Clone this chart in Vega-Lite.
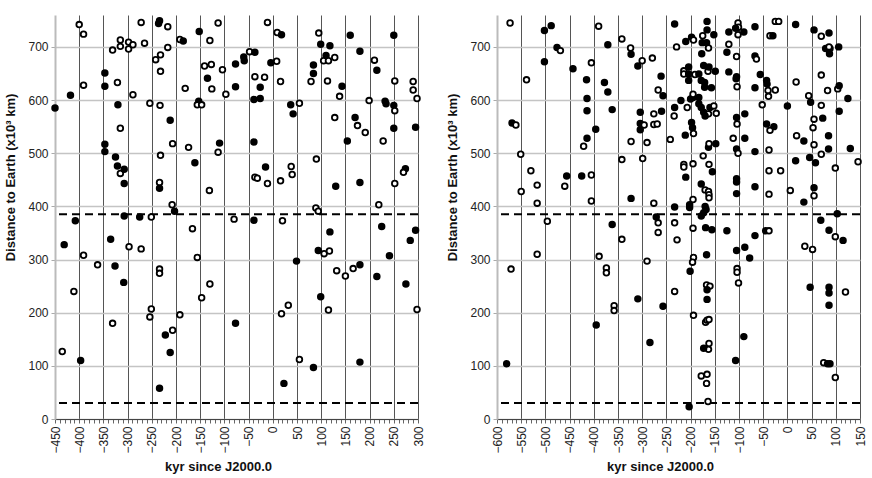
{
  "$schema": "https://vega.github.io/schema/vega-lite/v6.json",
  "background": "white",
  "padding": {"left": 4, "top": 14, "right": 5, "bottom": 5},
  "spacing": 22,
  "config": {
    "view": {"stroke": null},
    "font": "Liberation Sans",
    "axis": {
      "labelFont": "Liberation Sans",
      "titleFont": "Liberation Sans",
      "labelFontSize": 12,
      "labelColor": "#222",
      "titleFontSize": 13,
      "titleFontWeight": "bold",
      "titleColor": "#111",
      "tickSize": 4
    },
    "axisX": {
      "labelAngle": 270,
      "labelOverlap": false,
      "labelFlush": false,
      "labelPadding": 3,
      "domainColor": "#444",
      "domainWidth": 1,
      "tickColor": "#666",
      "tickWidth": 1,
      "gridColor": "#555",
      "gridWidth": 1,
      "titlePadding": 7,
      "titleX": 163
    },
    "axisY": {
      "domainColor": "#bbb",
      "domainWidth": 2,
      "tickColor": "#aaa",
      "gridColor": "#c4c4c4",
      "gridWidth": 1.5,
      "labelPadding": 3,
      "titlePadding": 10,
      "titleY": 162
    }
  },
  "datasets": {
    "lines": [{"dist": 385}, {"dist": 30}],
    "left": [
      {"kyr": -450, "dist": 585, "type": "filled"},
      {"kyr": -400, "dist": 742, "type": "open"},
      {"kyr": -391, "dist": 724, "type": "open"},
      {"kyr": -391, "dist": 628, "type": "open"},
      {"kyr": -418, "dist": 609, "type": "filled"},
      {"kyr": -408, "dist": 373, "type": "filled"},
      {"kyr": -431, "dist": 328, "type": "filled"},
      {"kyr": -347, "dist": 651, "type": "filled"},
      {"kyr": -347, "dist": 626, "type": "filled"},
      {"kyr": -331, "dist": 694, "type": "open"},
      {"kyr": -315, "dist": 713, "type": "open"},
      {"kyr": -315, "dist": 701, "type": "open"},
      {"kyr": -298, "dist": 709, "type": "open"},
      {"kyr": -298, "dist": 696, "type": "open"},
      {"kyr": -289, "dist": 704, "type": "open"},
      {"kyr": -272, "dist": 746, "type": "open"},
      {"kyr": -265, "dist": 707, "type": "open"},
      {"kyr": -321, "dist": 633, "type": "open"},
      {"kyr": -289, "dist": 610, "type": "open"},
      {"kyr": -320, "dist": 591, "type": "filled"},
      {"kyr": -315, "dist": 547, "type": "open"},
      {"kyr": -347, "dist": 517, "type": "filled"},
      {"kyr": -347, "dist": 503, "type": "filled"},
      {"kyr": -325, "dist": 493, "type": "filled"},
      {"kyr": -321, "dist": 476, "type": "filled"},
      {"kyr": -315, "dist": 462, "type": "open"},
      {"kyr": -307, "dist": 470, "type": "filled"},
      {"kyr": -307, "dist": 443, "type": "filled"},
      {"kyr": -307, "dist": 382, "type": "filled"},
      {"kyr": -275, "dist": 380, "type": "filled"},
      {"kyr": -335, "dist": 338, "type": "filled"},
      {"kyr": -297, "dist": 324, "type": "open"},
      {"kyr": -272, "dist": 320, "type": "open"},
      {"kyr": -251, "dist": 380, "type": "open"},
      {"kyr": -254, "dist": 594, "type": "open"},
      {"kyr": -236, "dist": 744, "type": "filled"},
      {"kyr": -234, "dist": 749, "type": "filled"},
      {"kyr": -217, "dist": 738, "type": "open"},
      {"kyr": -232, "dist": 685, "type": "open"},
      {"kyr": -217, "dist": 699, "type": "open"},
      {"kyr": -242, "dist": 676, "type": "open"},
      {"kyr": -232, "dist": 654, "type": "open"},
      {"kyr": -233, "dist": 590, "type": "open"},
      {"kyr": -232, "dist": 496, "type": "open"},
      {"kyr": -234, "dist": 445, "type": "open"},
      {"kyr": -234, "dist": 434, "type": "filled"},
      {"kyr": -212, "dist": 562, "type": "filled"},
      {"kyr": -207, "dist": 518, "type": "open"},
      {"kyr": -208, "dist": 403, "type": "open"},
      {"kyr": -203, "dist": 391, "type": "filled"},
      {"kyr": -192, "dist": 714, "type": "open"},
      {"kyr": -185, "dist": 711, "type": "filled"},
      {"kyr": -181, "dist": 622, "type": "open"},
      {"kyr": -174, "dist": 511, "type": "open"},
      {"kyr": -161, "dist": 482, "type": "filled"},
      {"kyr": -166, "dist": 358, "type": "open"},
      {"kyr": -152, "dist": 729, "type": "filled"},
      {"kyr": -153, "dist": 598, "type": "filled"},
      {"kyr": -156, "dist": 591, "type": "open"},
      {"kyr": -147, "dist": 591, "type": "open"},
      {"kyr": -135, "dist": 641, "type": "filled"},
      {"kyr": -141, "dist": 664, "type": "open"},
      {"kyr": -127, "dist": 667, "type": "open"},
      {"kyr": -130, "dist": 712, "type": "open"},
      {"kyr": -113, "dist": 745, "type": "open"},
      {"kyr": -126, "dist": 621, "type": "open"},
      {"kyr": -104, "dist": 657, "type": "open"},
      {"kyr": -97, "dist": 611, "type": "open"},
      {"kyr": -110, "dist": 519, "type": "filled"},
      {"kyr": -113, "dist": 502, "type": "open"},
      {"kyr": -131, "dist": 430, "type": "open"},
      {"kyr": -80, "dist": 376, "type": "open"},
      {"kyr": -77, "dist": 668, "type": "filled"},
      {"kyr": -77, "dist": 625, "type": "filled"},
      {"kyr": -60, "dist": 681, "type": "filled"},
      {"kyr": -59, "dist": 674, "type": "filled"},
      {"kyr": -48, "dist": 691, "type": "open"},
      {"kyr": -37, "dist": 690, "type": "filled"},
      {"kyr": -37, "dist": 644, "type": "open"},
      {"kyr": -17, "dist": 643, "type": "open"},
      {"kyr": -39, "dist": 601, "type": "filled"},
      {"kyr": -26, "dist": 603, "type": "filled"},
      {"kyr": -26, "dist": 624, "type": "filled"},
      {"kyr": -39, "dist": 521, "type": "filled"},
      {"kyr": -37, "dist": 455, "type": "open"},
      {"kyr": -32, "dist": 453, "type": "open"},
      {"kyr": -15, "dist": 474, "type": "filled"},
      {"kyr": -11, "dist": 443, "type": "open"},
      {"kyr": -39, "dist": 374, "type": "filled"},
      {"kyr": -11, "dist": 746, "type": "open"},
      {"kyr": -4, "dist": 670, "type": "filled"},
      {"kyr": 8, "dist": 673, "type": "open"},
      {"kyr": 9, "dist": 727, "type": "open"},
      {"kyr": 18, "dist": 723, "type": "filled"},
      {"kyr": 16, "dist": 635, "type": "open"},
      {"kyr": 16, "dist": 448, "type": "open"},
      {"kyr": 20, "dist": 373, "type": "open"},
      {"kyr": 38, "dist": 475, "type": "open"},
      {"kyr": 40, "dist": 460, "type": "open"},
      {"kyr": 37, "dist": 591, "type": "filled"},
      {"kyr": 42, "dist": 574, "type": "filled"},
      {"kyr": 55, "dist": 594, "type": "open"},
      {"kyr": 95, "dist": 726, "type": "open"},
      {"kyr": 99, "dist": 705, "type": "filled"},
      {"kyr": 118, "dist": 702, "type": "filled"},
      {"kyr": 110, "dist": 684, "type": "filled"},
      {"kyr": 105, "dist": 674, "type": "open"},
      {"kyr": 115, "dist": 674, "type": "open"},
      {"kyr": 128, "dist": 680, "type": "open"},
      {"kyr": 84, "dist": 666, "type": "filled"},
      {"kyr": 84, "dist": 650, "type": "filled"},
      {"kyr": 79, "dist": 635, "type": "open"},
      {"kyr": 113, "dist": 636, "type": "open"},
      {"kyr": 143, "dist": 626, "type": "filled"},
      {"kyr": 138, "dist": 607, "type": "open"},
      {"kyr": 128, "dist": 567, "type": "open"},
      {"kyr": 170, "dist": 567, "type": "filled"},
      {"kyr": 175, "dist": 552, "type": "open"},
      {"kyr": 191, "dist": 539, "type": "open"},
      {"kyr": 154, "dist": 523, "type": "filled"},
      {"kyr": 160, "dist": 722, "type": "filled"},
      {"kyr": 180, "dist": 692, "type": "filled"},
      {"kyr": 210, "dist": 675, "type": "open"},
      {"kyr": 215, "dist": 656, "type": "filled"},
      {"kyr": 199, "dist": 599, "type": "open"},
      {"kyr": 232, "dist": 598, "type": "filled"},
      {"kyr": 234, "dist": 593, "type": "filled"},
      {"kyr": 250, "dist": 590, "type": "filled"},
      {"kyr": 252, "dist": 580, "type": "open"},
      {"kyr": 252, "dist": 636, "type": "open"},
      {"kyr": 250, "dist": 722, "type": "filled"},
      {"kyr": 228, "dist": 523, "type": "open"},
      {"kyr": 250, "dist": 547, "type": "filled"},
      {"kyr": 295, "dist": 549, "type": "filled"},
      {"kyr": 290, "dist": 635, "type": "open"},
      {"kyr": 290, "dist": 619, "type": "open"},
      {"kyr": 298, "dist": 603, "type": "open"},
      {"kyr": 90, "dist": 489, "type": "open"},
      {"kyr": 130, "dist": 438, "type": "filled"},
      {"kyr": 180, "dist": 445, "type": "filled"},
      {"kyr": 252, "dist": 443, "type": "open"},
      {"kyr": 274, "dist": 471, "type": "filled"},
      {"kyr": 270, "dist": 464, "type": "open"},
      {"kyr": 219, "dist": 403, "type": "open"},
      {"kyr": 89, "dist": 397, "type": "open"},
      {"kyr": 94, "dist": 391, "type": "open"},
      {"kyr": 118, "dist": 352, "type": "filled"},
      {"kyr": 225, "dist": 362, "type": "filled"},
      {"kyr": 295, "dist": 355, "type": "filled"},
      {"kyr": 284, "dist": 336, "type": "filled"},
      {"kyr": 94, "dist": 317, "type": "filled"},
      {"kyr": 106, "dist": 311, "type": "open"},
      {"kyr": 117, "dist": 316, "type": "open"},
      {"kyr": 49, "dist": 297, "type": "filled"},
      {"kyr": 132, "dist": 279, "type": "open"},
      {"kyr": 150, "dist": 269, "type": "open"},
      {"kyr": 166, "dist": 283, "type": "open"},
      {"kyr": 180, "dist": 290, "type": "filled"},
      {"kyr": 215, "dist": 268, "type": "filled"},
      {"kyr": 241, "dist": 307, "type": "filled"},
      {"kyr": 275, "dist": 254, "type": "filled"},
      {"kyr": 99, "dist": 230, "type": "filled"},
      {"kyr": 32, "dist": 214, "type": "open"},
      {"kyr": 18, "dist": 198, "type": "open"},
      {"kyr": 115, "dist": 205, "type": "open"},
      {"kyr": 298, "dist": 206, "type": "open"},
      {"kyr": 55, "dist": 112, "type": "open"},
      {"kyr": 84, "dist": 97, "type": "filled"},
      {"kyr": 180, "dist": 107, "type": "filled"},
      {"kyr": 23, "dist": 67, "type": "filled"},
      {"kyr": -391, "dist": 308, "type": "open"},
      {"kyr": -362, "dist": 290, "type": "open"},
      {"kyr": -326, "dist": 288, "type": "filled"},
      {"kyr": -308, "dist": 257, "type": "filled"},
      {"kyr": -411, "dist": 240, "type": "open"},
      {"kyr": -331, "dist": 180, "type": "open"},
      {"kyr": -435, "dist": 127, "type": "open"},
      {"kyr": -397, "dist": 110, "type": "filled"},
      {"kyr": -234, "dist": 282, "type": "open"},
      {"kyr": -234, "dist": 274, "type": "open"},
      {"kyr": -251, "dist": 207, "type": "open"},
      {"kyr": -254, "dist": 192, "type": "open"},
      {"kyr": -222, "dist": 158, "type": "filled"},
      {"kyr": -207, "dist": 167, "type": "open"},
      {"kyr": -212, "dist": 125, "type": "filled"},
      {"kyr": -192, "dist": 196, "type": "open"},
      {"kyr": -234, "dist": 58, "type": "filled"},
      {"kyr": -156, "dist": 304, "type": "open"},
      {"kyr": -147, "dist": 228, "type": "open"},
      {"kyr": -130, "dist": 254, "type": "open"},
      {"kyr": -77, "dist": 180, "type": "filled"}
    ],
    "right": [
      {"kyr": -573, "dist": 745, "type": "open"},
      {"kyr": -502, "dist": 731, "type": "filled"},
      {"kyr": -488, "dist": 740, "type": "filled"},
      {"kyr": -476, "dist": 699, "type": "filled"},
      {"kyr": -469, "dist": 693, "type": "open"},
      {"kyr": -502, "dist": 672, "type": "filled"},
      {"kyr": -539, "dist": 638, "type": "open"},
      {"kyr": -443, "dist": 659, "type": "filled"},
      {"kyr": -405, "dist": 670, "type": "open"},
      {"kyr": -390, "dist": 739, "type": "open"},
      {"kyr": -371, "dist": 704, "type": "filled"},
      {"kyr": -342, "dist": 715, "type": "open"},
      {"kyr": -324, "dist": 698, "type": "open"},
      {"kyr": -323, "dist": 686, "type": "filled"},
      {"kyr": -309, "dist": 664, "type": "filled"},
      {"kyr": -300, "dist": 674, "type": "open"},
      {"kyr": -279, "dist": 679, "type": "open"},
      {"kyr": -415, "dist": 638, "type": "filled"},
      {"kyr": -414, "dist": 603, "type": "filled"},
      {"kyr": -414, "dist": 580, "type": "filled"},
      {"kyr": -378, "dist": 633, "type": "filled"},
      {"kyr": -371, "dist": 615, "type": "filled"},
      {"kyr": -362, "dist": 582, "type": "filled"},
      {"kyr": -414, "dist": 528, "type": "filled"},
      {"kyr": -421, "dist": 513, "type": "open"},
      {"kyr": -396, "dist": 545, "type": "filled"},
      {"kyr": -569, "dist": 557, "type": "filled"},
      {"kyr": -561, "dist": 553, "type": "open"},
      {"kyr": -551, "dist": 498, "type": "open"},
      {"kyr": -550, "dist": 428, "type": "open"},
      {"kyr": -530, "dist": 467, "type": "open"},
      {"kyr": -517, "dist": 440, "type": "open"},
      {"kyr": -517, "dist": 406, "type": "open"},
      {"kyr": -496, "dist": 372, "type": "open"},
      {"kyr": -456, "dist": 457, "type": "filled"},
      {"kyr": -460, "dist": 438, "type": "open"},
      {"kyr": -425, "dist": 457, "type": "filled"},
      {"kyr": -405, "dist": 459, "type": "open"},
      {"kyr": -405, "dist": 410, "type": "open"},
      {"kyr": -304, "dist": 577, "type": "filled"},
      {"kyr": -304, "dist": 556, "type": "filled"},
      {"kyr": -304, "dist": 544, "type": "filled"},
      {"kyr": -296, "dist": 553, "type": "open"},
      {"kyr": -276, "dist": 574, "type": "open"},
      {"kyr": -276, "dist": 554, "type": "open"},
      {"kyr": -269, "dist": 555, "type": "open"},
      {"kyr": -323, "dist": 522, "type": "open"},
      {"kyr": -290, "dist": 520, "type": "open"},
      {"kyr": -342, "dist": 488, "type": "open"},
      {"kyr": -299, "dist": 490, "type": "open"},
      {"kyr": -323, "dist": 415, "type": "filled"},
      {"kyr": -276, "dist": 406, "type": "open"},
      {"kyr": -271, "dist": 380, "type": "filled"},
      {"kyr": -362, "dist": 366, "type": "filled"},
      {"kyr": -342, "dist": 338, "type": "open"},
      {"kyr": -267, "dist": 369, "type": "open"},
      {"kyr": -267, "dist": 351, "type": "open"},
      {"kyr": -571, "dist": 282, "type": "open"},
      {"kyr": -517, "dist": 310, "type": "open"},
      {"kyr": -580, "dist": 104, "type": "filled"},
      {"kyr": -395, "dist": 177, "type": "filled"},
      {"kyr": -389, "dist": 306, "type": "open"},
      {"kyr": -374, "dist": 284, "type": "open"},
      {"kyr": -374, "dist": 275, "type": "open"},
      {"kyr": -358, "dist": 213, "type": "open"},
      {"kyr": -358, "dist": 204, "type": "open"},
      {"kyr": -309, "dist": 226, "type": "filled"},
      {"kyr": -290, "dist": 297, "type": "open"},
      {"kyr": -284, "dist": 144, "type": "filled"},
      {"kyr": -233, "dist": 743, "type": "filled"},
      {"kyr": -166, "dist": 748, "type": "filled"},
      {"kyr": -166, "dist": 732, "type": "filled"},
      {"kyr": -152, "dist": 723, "type": "filled"},
      {"kyr": -121, "dist": 728, "type": "filled"},
      {"kyr": -102, "dist": 745, "type": "open"},
      {"kyr": -101, "dist": 737, "type": "open"},
      {"kyr": -102, "dist": 723, "type": "open"},
      {"kyr": -107, "dist": 735, "type": "filled"},
      {"kyr": -90, "dist": 728, "type": "filled"},
      {"kyr": -67, "dist": 738, "type": "filled"},
      {"kyr": -25, "dist": 748, "type": "open"},
      {"kyr": -18, "dist": 748, "type": "open"},
      {"kyr": -36, "dist": 721, "type": "open"},
      {"kyr": -30, "dist": 721, "type": "filled"},
      {"kyr": 17, "dist": 742, "type": "filled"},
      {"kyr": 55, "dist": 732, "type": "filled"},
      {"kyr": 86, "dist": 726, "type": "filled"},
      {"kyr": 70, "dist": 720, "type": "open"},
      {"kyr": -210, "dist": 710, "type": "filled"},
      {"kyr": -198, "dist": 718, "type": "filled"},
      {"kyr": -194, "dist": 713, "type": "open"},
      {"kyr": -229, "dist": 700, "type": "open"},
      {"kyr": -177, "dist": 687, "type": "filled"},
      {"kyr": -175, "dist": 721, "type": "open"},
      {"kyr": -176, "dist": 708, "type": "filled"},
      {"kyr": -167, "dist": 708, "type": "filled"},
      {"kyr": -163, "dist": 698, "type": "open"},
      {"kyr": -121, "dist": 705, "type": "open"},
      {"kyr": -125, "dist": 690, "type": "filled"},
      {"kyr": -105, "dist": 682, "type": "open"},
      {"kyr": -67, "dist": 683, "type": "filled"},
      {"kyr": -64, "dist": 677, "type": "open"},
      {"kyr": 79, "dist": 697, "type": "filled"},
      {"kyr": 88, "dist": 697, "type": "filled"},
      {"kyr": 86, "dist": 700, "type": "open"},
      {"kyr": 87, "dist": 687, "type": "filled"},
      {"kyr": 106, "dist": 700, "type": "filled"},
      {"kyr": -214, "dist": 655, "type": "open"},
      {"kyr": -214, "dist": 649, "type": "open"},
      {"kyr": -204, "dist": 662, "type": "filled"},
      {"kyr": -204, "dist": 649, "type": "filled"},
      {"kyr": -204, "dist": 637, "type": "filled"},
      {"kyr": -191, "dist": 648, "type": "open"},
      {"kyr": -183, "dist": 649, "type": "filled"},
      {"kyr": -173, "dist": 665, "type": "filled"},
      {"kyr": -164, "dist": 654, "type": "open"},
      {"kyr": -162, "dist": 662, "type": "filled"},
      {"kyr": -149, "dist": 654, "type": "filled"},
      {"kyr": -178, "dist": 637, "type": "filled"},
      {"kyr": -171, "dist": 633, "type": "filled"},
      {"kyr": -171, "dist": 624, "type": "filled"},
      {"kyr": -157, "dist": 623, "type": "filled"},
      {"kyr": -261, "dist": 645, "type": "filled"},
      {"kyr": -267, "dist": 619, "type": "open"},
      {"kyr": -257, "dist": 608, "type": "filled"},
      {"kyr": -121, "dist": 653, "type": "filled"},
      {"kyr": -105, "dist": 644, "type": "filled"},
      {"kyr": -106, "dist": 640, "type": "filled"},
      {"kyr": -104, "dist": 625, "type": "open"},
      {"kyr": -56, "dist": 648, "type": "filled"},
      {"kyr": -43, "dist": 637, "type": "filled"},
      {"kyr": -42, "dist": 630, "type": "filled"},
      {"kyr": -40, "dist": 618, "type": "open"},
      {"kyr": -39, "dist": 607, "type": "open"},
      {"kyr": -25, "dist": 619, "type": "open"},
      {"kyr": -67, "dist": 623, "type": "filled"},
      {"kyr": 18, "dist": 634, "type": "open"},
      {"kyr": 70, "dist": 647, "type": "open"},
      {"kyr": 83, "dist": 618, "type": "open"},
      {"kyr": 104, "dist": 621, "type": "open"},
      {"kyr": 107, "dist": 627, "type": "filled"},
      {"kyr": 125, "dist": 603, "type": "filled"},
      {"kyr": 107, "dist": 579, "type": "filled"},
      {"kyr": 44, "dist": 608, "type": "open"},
      {"kyr": 48, "dist": 596, "type": "filled"},
      {"kyr": 70, "dist": 590, "type": "open"},
      {"kyr": 0, "dist": 589, "type": "filled"},
      {"kyr": -52, "dist": 591, "type": "open"},
      {"kyr": -220, "dist": 599, "type": "filled"},
      {"kyr": -233, "dist": 586, "type": "filled"},
      {"kyr": -234, "dist": 570, "type": "open"},
      {"kyr": -260, "dist": 579, "type": "filled"},
      {"kyr": -200, "dist": 602, "type": "filled"},
      {"kyr": -195, "dist": 605, "type": "filled"},
      {"kyr": -195, "dist": 611, "type": "open"},
      {"kyr": -183, "dist": 605, "type": "filled"},
      {"kyr": -183, "dist": 593, "type": "filled"},
      {"kyr": -178, "dist": 586, "type": "filled"},
      {"kyr": -173, "dist": 577, "type": "filled"},
      {"kyr": -163, "dist": 574, "type": "open"},
      {"kyr": -170, "dist": 570, "type": "filled"},
      {"kyr": -160, "dist": 586, "type": "filled"},
      {"kyr": -152, "dist": 589, "type": "open"},
      {"kyr": -147, "dist": 575, "type": "open"},
      {"kyr": -207, "dist": 586, "type": "open"},
      {"kyr": -198, "dist": 558, "type": "filled"},
      {"kyr": -196, "dist": 548, "type": "filled"},
      {"kyr": -211, "dist": 534, "type": "filled"},
      {"kyr": -194, "dist": 537, "type": "open"},
      {"kyr": -242, "dist": 526, "type": "open"},
      {"kyr": -105, "dist": 567, "type": "filled"},
      {"kyr": -88, "dist": 574, "type": "filled"},
      {"kyr": -104, "dist": 555, "type": "open"},
      {"kyr": -43, "dist": 555, "type": "filled"},
      {"kyr": -28, "dist": 550, "type": "filled"},
      {"kyr": -36, "dist": 543, "type": "open"},
      {"kyr": -112, "dist": 528, "type": "open"},
      {"kyr": -88, "dist": 528, "type": "filled"},
      {"kyr": -163, "dist": 511, "type": "filled"},
      {"kyr": -162, "dist": 518, "type": "open"},
      {"kyr": -148, "dist": 518, "type": "filled"},
      {"kyr": -105, "dist": 508, "type": "filled"},
      {"kyr": -102, "dist": 500, "type": "open"},
      {"kyr": -67, "dist": 503, "type": "filled"},
      {"kyr": -38, "dist": 506, "type": "open"},
      {"kyr": -174, "dist": 495, "type": "open"},
      {"kyr": -214, "dist": 479, "type": "open"},
      {"kyr": -214, "dist": 474, "type": "open"},
      {"kyr": -195, "dist": 480, "type": "open"},
      {"kyr": -162, "dist": 479, "type": "open"},
      {"kyr": -155, "dist": 465, "type": "filled"},
      {"kyr": -210, "dist": 455, "type": "filled"},
      {"kyr": -38, "dist": 467, "type": "open"},
      {"kyr": -14, "dist": 467, "type": "open"},
      {"kyr": 17, "dist": 486, "type": "filled"},
      {"kyr": 46, "dist": 492, "type": "filled"},
      {"kyr": 58, "dist": 482, "type": "filled"},
      {"kyr": 99, "dist": 472, "type": "open"},
      {"kyr": 130, "dist": 509, "type": "filled"},
      {"kyr": 146, "dist": 484, "type": "open"},
      {"kyr": 34, "dist": 523, "type": "filled"},
      {"kyr": 19, "dist": 533, "type": "open"},
      {"kyr": 55, "dist": 516, "type": "open"},
      {"kyr": 53, "dist": 548, "type": "open"},
      {"kyr": 55, "dist": 564, "type": "open"},
      {"kyr": 73, "dist": 566, "type": "filled"},
      {"kyr": 85, "dist": 533, "type": "filled"},
      {"kyr": 85, "dist": 508, "type": "filled"},
      {"kyr": 70, "dist": 498, "type": "open"},
      {"kyr": -178, "dist": 442, "type": "filled"},
      {"kyr": -170, "dist": 431, "type": "open"},
      {"kyr": -163, "dist": 428, "type": "open"},
      {"kyr": -162, "dist": 422, "type": "open"},
      {"kyr": -162, "dist": 416, "type": "open"},
      {"kyr": -105, "dist": 452, "type": "filled"},
      {"kyr": -105, "dist": 446, "type": "filled"},
      {"kyr": -105, "dist": 424, "type": "filled"},
      {"kyr": -67, "dist": 437, "type": "filled"},
      {"kyr": -38, "dist": 423, "type": "open"},
      {"kyr": 6, "dist": 430, "type": "open"},
      {"kyr": 55, "dist": 435, "type": "filled"},
      {"kyr": 55, "dist": 420, "type": "open"},
      {"kyr": 34, "dist": 408, "type": "filled"},
      {"kyr": -233, "dist": 399, "type": "filled"},
      {"kyr": -202, "dist": 403, "type": "filled"},
      {"kyr": -202, "dist": 398, "type": "filled"},
      {"kyr": -195, "dist": 413, "type": "open"},
      {"kyr": -170, "dist": 400, "type": "filled"},
      {"kyr": -168, "dist": 394, "type": "filled"},
      {"kyr": -173, "dist": 388, "type": "filled"},
      {"kyr": -178, "dist": 382, "type": "filled"},
      {"kyr": -233, "dist": 369, "type": "open"},
      {"kyr": -195, "dist": 359, "type": "open"},
      {"kyr": -228, "dist": 337, "type": "open"},
      {"kyr": -169, "dist": 360, "type": "filled"},
      {"kyr": -156, "dist": 356, "type": "filled"},
      {"kyr": -125, "dist": 354, "type": "filled"},
      {"kyr": -67, "dist": 345, "type": "filled"},
      {"kyr": -45, "dist": 354, "type": "filled"},
      {"kyr": -38, "dist": 354, "type": "open"},
      {"kyr": -105, "dist": 317, "type": "filled"},
      {"kyr": -88, "dist": 323, "type": "filled"},
      {"kyr": 69, "dist": 374, "type": "filled"},
      {"kyr": 103, "dist": 386, "type": "filled"},
      {"kyr": 86, "dist": 355, "type": "filled"},
      {"kyr": 99, "dist": 343, "type": "open"},
      {"kyr": 115, "dist": 336, "type": "filled"},
      {"kyr": 36, "dist": 325, "type": "open"},
      {"kyr": 52, "dist": 319, "type": "open"},
      {"kyr": -194, "dist": 304, "type": "open"},
      {"kyr": -196, "dist": 295, "type": "open"},
      {"kyr": -167, "dist": 309, "type": "filled"},
      {"kyr": -201, "dist": 278, "type": "filled"},
      {"kyr": -78, "dist": 303, "type": "filled"},
      {"kyr": -104, "dist": 283, "type": "open"},
      {"kyr": -104, "dist": 276, "type": "open"},
      {"kyr": -101, "dist": 256, "type": "open"},
      {"kyr": -233, "dist": 240, "type": "open"},
      {"kyr": -167, "dist": 252, "type": "open"},
      {"kyr": -160, "dist": 250, "type": "open"},
      {"kyr": -166, "dist": 243, "type": "filled"},
      {"kyr": -166, "dist": 225, "type": "filled"},
      {"kyr": -257, "dist": 212, "type": "filled"},
      {"kyr": -194, "dist": 195, "type": "open"},
      {"kyr": -169, "dist": 182, "type": "open"},
      {"kyr": -166, "dist": 186, "type": "open"},
      {"kyr": -162, "dist": 187, "type": "open"},
      {"kyr": -162, "dist": 142, "type": "open"},
      {"kyr": -163, "dist": 131, "type": "open"},
      {"kyr": -173, "dist": 133, "type": "filled"},
      {"kyr": -90, "dist": 155, "type": "filled"},
      {"kyr": -107, "dist": 110, "type": "filled"},
      {"kyr": -178, "dist": 81, "type": "open"},
      {"kyr": -166, "dist": 84, "type": "open"},
      {"kyr": -167, "dist": 67, "type": "open"},
      {"kyr": -164, "dist": 33, "type": "open"},
      {"kyr": -203, "dist": 23, "type": "filled"},
      {"kyr": 47, "dist": 248, "type": "filled"},
      {"kyr": 86, "dist": 248, "type": "filled"},
      {"kyr": 86, "dist": 237, "type": "filled"},
      {"kyr": 86, "dist": 214, "type": "filled"},
      {"kyr": 120, "dist": 239, "type": "open"},
      {"kyr": 75, "dist": 106, "type": "open"},
      {"kyr": 83, "dist": 104, "type": "filled"},
      {"kyr": 88, "dist": 104, "type": "filled"},
      {"kyr": 99, "dist": 78, "type": "open"}
    ]
  },
  "hconcat": [
    {
      "width": 363,
      "height": 404,
      "layer": [
        {
          "data": {"name": "lines"},
          "mark": {"type": "rule", "stroke": "black", "strokeWidth": 2, "strokeDash": [8, 5]},
          "encoding": {
            "y": {
              "field": "dist", "type": "quantitative",
              "scale": {"domain": [0, 760], "nice": false},
              "axis": {"title": "Distance to Earth (x10³ km)", "values": [0, 100, 200, 300, 400, 500, 600, 700]}
            }
          }
        },
        {
          "data": {"name": "left"},
          "mark": {"type": "point", "shape": "circle", "filled": true, "size": 32, "stroke": "black", "strokeWidth": 1.8, "opacity": 1},
          "encoding": {
            "x": {
              "field": "kyr", "type": "quantitative",
              "scale": {"domain": [-450, 300], "nice": false, "zero": false},
              "axis": {
                "title": "kyr since J2000.0",
                "values": [-450,-440,-430,-420,-410,-400,-390,-380,-370,-360,-350,-340,-330,-320,-310,-300,-290,-280,-270,-260,-250,-240,-230,-220,-210,-200,-190,-180,-170,-160,-150,-140,-130,-120,-110,-100,-90,-80,-70,-60,-50,-40,-30,-20,-10,0,10,20,30,40,50,60,70,80,90,100,110,120,130,140,150,160,170,180,190,200,210,220,230,240,250,260,270,280,290,300],
                "labelExpr": "datum.value % 50 === 0 ? datum.label : ''",
                "gridOpacity": {"condition": {"test": "datum.value % 50 === 0 && datum.value > -450", "value": 1}, "value": 0}
              }
            },
            "y": {
              "field": "dist", "type": "quantitative",
              "scale": {"domain": [0, 760], "nice": false},
              "axis": {"title": "Distance to Earth (x10³ km)", "values": [0, 100, 200, 300, 400, 500, 600, 700]}
            },
            "fill": {"field": "type", "type": "nominal", "scale": {"domain": ["filled", "open"], "range": ["black", "white"]}, "legend": null}
          }
        }
      ]
    },
    {
      "width": 363,
      "height": 404,
      "layer": [
        {
          "data": {"name": "lines"},
          "mark": {"type": "rule", "stroke": "black", "strokeWidth": 2, "strokeDash": [8, 5]},
          "encoding": {
            "y": {
              "field": "dist", "type": "quantitative",
              "scale": {"domain": [0, 760], "nice": false},
              "axis": {"title": "Distance to Earth (x10³ km)", "values": [0, 100, 200, 300, 400, 500, 600, 700]}
            }
          }
        },
        {
          "data": {"name": "right"},
          "mark": {"type": "point", "shape": "circle", "filled": true, "size": 32, "stroke": "black", "strokeWidth": 1.8, "opacity": 1},
          "encoding": {
            "x": {
              "field": "kyr", "type": "quantitative",
              "scale": {"domain": [-600, 150], "nice": false, "zero": false},
              "axis": {
                "title": "kyr since J2000.0",
                "values": [-600,-590,-580,-570,-560,-550,-540,-530,-520,-510,-500,-490,-480,-470,-460,-450,-440,-430,-420,-410,-400,-390,-380,-370,-360,-350,-340,-330,-320,-310,-300,-290,-280,-270,-260,-250,-240,-230,-220,-210,-200,-190,-180,-170,-160,-150,-140,-130,-120,-110,-100,-90,-80,-70,-60,-50,-40,-30,-20,-10,0,10,20,30,40,50,60,70,80,90,100,110,120,130,140,150],
                "labelExpr": "datum.value % 50 === 0 ? datum.label : ''",
                "gridOpacity": {"condition": {"test": "datum.value % 50 === 0 && datum.value > -600", "value": 1}, "value": 0}
              }
            },
            "y": {
              "field": "dist", "type": "quantitative",
              "scale": {"domain": [0, 760], "nice": false},
              "axis": {"title": "Distance to Earth (x10³ km)", "values": [0, 100, 200, 300, 400, 500, 600, 700]}
            },
            "fill": {"field": "type", "type": "nominal", "scale": {"domain": ["filled", "open"], "range": ["black", "white"]}, "legend": null}
          }
        }
      ]
    }
  ]
}
